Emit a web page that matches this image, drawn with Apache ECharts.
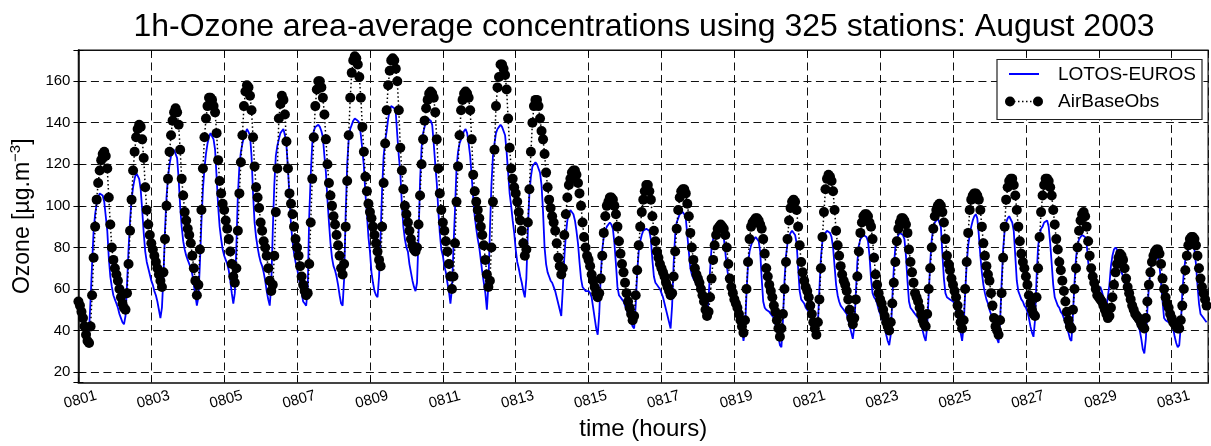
<!DOCTYPE html>
<html><head><meta charset="utf-8">
<script src="https://cdn.jsdelivr.net/npm/echarts@6/dist/echarts.min.js"></script>
<style>html,body{margin:0;padding:0;background:#fff}#c{width:1211px;height:446px}</style>
</head><body><div id="c"></div><script>
// tick labels (every 48 hours)
const xTickLabels = ['0801','0803','0805','0807','0809','0811','0813','0815','0817','0819','0821','0823','0825','0827','0829','0831'];
const titleText = '1h-Ozone area-average concentrations using 325 stations: August 2003';
const seriesNames = ['LOTOS-EUROS', 'AirBaseObs'];

// AirBaseObs hourly values, one line per day (0801 .. 0831)
const obs = [
 54, 52, 49, 46, 42, 38, 35, 34, 42, 57, 75, 90, 103, 111, 117, 122, 125, 126, 124, 118, 104, 91, 80, 74,
 70, 67, 64, 60, 56, 53, 51, 50, 58, 72, 88, 103, 117, 126, 133, 137, 139, 138, 132, 123, 109, 98, 91, 86,
 82, 79, 76, 73, 70, 67, 64, 61, 68, 84, 100, 113, 126, 134, 141, 145, 147, 145, 139, 127, 113, 105, 97, 93,
 89, 86, 82, 76, 70, 64, 57, 62, 79, 98, 118, 133, 142, 148, 152, 152, 151, 148, 145, 135, 122, 112, 106, 101,
 98, 93, 89, 84, 78, 72, 66, 63, 70, 88, 106, 121, 134, 148, 155, 158, 157, 153, 146, 133, 119, 109, 104, 99,
 92, 88, 83, 80, 76, 70, 64, 59, 62, 76, 97, 118, 142, 149, 153, 151, 144, 131, 118, 106, 101, 96, 90, 84,
 80, 76, 71, 66, 62, 59, 57, 58, 72, 92, 113, 133, 148, 156, 160, 160, 157, 152, 144, 132, 120, 111, 105, 100,
 95, 91, 86, 81, 76, 70, 67, 72, 90, 112, 134, 152, 164, 170, 172, 171, 168, 162, 152, 138, 126, 114, 107, 101,
 97, 94, 90, 86, 82, 78, 74, 71, 90, 111, 130, 146, 158, 165, 170, 171, 170, 166, 160, 146, 128, 117, 108, 100,
 96, 92, 88, 84, 81, 79, 78, 80, 91, 105, 120, 132, 141, 147, 151, 154, 155, 154, 152, 145, 132, 118, 106, 98,
 92, 88, 83, 78, 72, 66, 60, 66, 82, 102, 119, 134, 146, 151, 154, 155, 154, 152, 146, 132, 115, 107, 102, 98,
 94, 90, 86, 81, 74, 67, 61, 64, 80, 102, 127, 148, 157, 162, 168, 168, 166, 163, 156, 142, 128, 118, 113, 109,
 106, 102, 97, 93, 88, 82, 76, 79, 92, 108, 126, 140, 148, 151, 151, 148, 142, 136, 132, 125, 116, 109, 103, 99,
 95, 92, 88, 82, 75, 71, 67, 70, 86, 96, 104, 110, 113, 116, 117, 117, 115, 111, 106, 100, 92, 85, 80, 76,
 74, 71, 67, 64, 61, 58, 56, 58, 65, 76, 87, 95, 100, 102, 104, 104, 103, 100, 96, 90, 83, 77, 72, 68,
 63, 58, 54, 51, 48, 45, 47, 57, 69, 81, 90, 97, 103, 107, 110, 110, 107, 103, 95, 88, 83, 78, 75, 72,
 70, 68, 66, 63, 61, 59, 57, 58, 66, 78, 89, 98, 104, 107, 108, 108, 106, 101, 95, 87, 80, 74, 70, 67,
 65, 63, 60, 57, 54, 50, 47, 49, 56, 65, 74, 81, 86, 89, 90, 91, 90, 89, 86, 80, 72, 65, 61, 58,
 55, 53, 51, 48, 45, 42, 39, 45, 60, 73, 84, 90, 92, 93, 94, 94, 93, 91, 89, 84, 77, 70, 66, 62,
 59, 56, 52, 49, 45, 41, 37, 41, 48, 60, 73, 84, 93, 99, 102, 103, 102, 98, 90, 81, 73, 68, 64, 61,
 59, 56, 52, 48, 44, 41, 38, 44, 55, 70, 85, 97, 108, 113, 115, 114, 112, 107, 98, 88, 81, 76, 71, 67,
 64, 62, 59, 55, 50, 46, 43, 46, 55, 66, 78, 87, 92, 95, 96, 96, 95, 92, 90, 84, 75, 67, 62, 58,
 55, 53, 50, 47, 44, 42, 40, 44, 53, 63, 73, 83, 89, 92, 94, 94, 93, 91, 87, 79, 73, 68, 63, 58,
 56, 54, 51, 48, 45, 43, 42, 48, 60, 70, 80, 89, 95, 98, 100, 101, 100, 97, 92, 84, 76, 72, 69, 65,
 62, 59, 56, 52, 48, 44, 41, 45, 60, 73, 87, 98, 103, 105, 106, 106, 105, 103, 98, 90, 82, 76, 71, 67,
 64, 58, 52, 46, 42, 40, 38, 45, 58, 75, 90, 103, 109, 112, 113, 113, 110, 105, 98, 90, 83, 77, 73, 70,
 66, 62, 57, 53, 50, 48, 47, 56, 70, 85, 97, 105, 110, 113, 113, 112, 109, 105, 98, 91, 84, 79, 73, 69,
 64, 59, 54, 49, 45, 42, 41, 50, 60, 70, 80, 88, 93, 96, 97, 95, 90, 83, 76, 70, 66, 63, 60, 57,
 56, 55, 54, 52, 50, 48, 46, 47, 51, 56, 62, 68, 72, 75, 77, 76, 74, 70, 65, 61, 58, 55, 52, 50,
 48, 47, 46, 45, 43, 42, 41, 46, 54, 62, 68, 73, 76, 78, 79, 79, 77, 72, 65, 60, 56, 53, 51, 48,
 46, 44, 43, 42, 41, 41, 45, 52, 60, 69, 76, 81, 84, 85, 85, 84, 81, 76, 70, 65, 61, 58, 55, 52
];

// LOTOS-EUROS hourly values, one line per day (0801 .. 0831)
const model = [
 50, 48, 46, 44, 42, 40, 38, 40, 55, 72, 88, 96, 101, 104, 106, 106, 105, 102, 95, 88, 75, 66, 61, 57,
 55, 53, 51, 48, 46, 44, 43, 47, 62, 79, 93, 103, 109, 113, 116, 116, 113, 108, 98, 87, 78, 73, 70, 67,
 64, 62, 59, 57, 54, 50, 46, 51, 66, 88, 104, 114, 120, 124, 126, 127, 127, 123, 113, 100, 90, 83, 79, 76,
 74, 72, 70, 67, 62, 57, 52, 56, 72, 92, 108, 118, 125, 130, 133, 135, 135, 132, 127, 114, 100, 90, 84, 79,
 76, 74, 72, 69, 64, 58, 53, 58, 80, 105, 119, 126, 130, 133, 135, 137, 137, 134, 124, 106, 92, 85, 80, 76,
 73, 71, 68, 64, 59, 55, 52, 62, 88, 110, 124, 129, 132, 135, 136, 137, 134, 129, 118, 104, 91, 83, 77, 73,
 70, 66, 62, 58, 54, 53, 52, 60, 95, 115, 130, 136, 138, 138, 139, 138, 136, 133, 124, 116, 103, 92, 82, 75,
 71, 69, 66, 62, 57, 53, 52, 65, 96, 120, 132, 137, 139, 141, 142, 142, 141, 140, 134, 127, 119, 106, 96, 85,
 78, 68, 63, 59, 57, 56, 66, 85, 108, 124, 131, 136, 142, 146, 148, 148, 147, 145, 134, 124, 116, 101, 90, 84,
 80, 78, 72, 68, 64, 61, 59, 63, 85, 112, 128, 135, 138, 141, 142, 142, 141, 139, 130, 120, 111, 98, 87, 79,
 76, 71, 68, 63, 59, 53, 60, 80, 98, 118, 126, 130, 132, 134, 136, 137, 135, 130, 124, 114, 104, 95, 89, 84,
 80, 74, 68, 63, 58, 50, 62, 88, 110, 124, 130, 135, 137, 138, 139, 138, 138, 134, 126, 116, 106, 100, 93, 87,
 79, 73, 70, 66, 63, 59, 56, 65, 88, 106, 114, 119, 120, 121, 120, 118, 116, 110, 97, 80, 72, 68, 66, 64,
 63, 61, 59, 56, 53, 50, 47, 60, 75, 86, 93, 96, 98, 98, 96, 93, 88, 82, 73, 65, 61, 60, 59, 59,
 59, 58, 56, 51, 46, 41, 38, 48, 66, 79, 85, 88, 90, 91, 92, 91, 89, 82, 72, 61, 57, 56, 55, 54,
 52, 50, 48, 46, 44, 42, 41, 52, 68, 78, 83, 86, 88, 88, 89, 89, 88, 84, 74, 66, 63, 62, 61, 60,
 58, 56, 53, 50, 47, 44, 41, 52, 72, 86, 92, 94, 96, 96, 97, 96, 94, 86, 78, 70, 67, 65, 64, 62,
 61, 60, 59, 57, 54, 50, 46, 55, 69, 80, 84, 86, 87, 88, 88, 88, 87, 85, 78, 71, 66, 62, 59, 56,
 53, 51, 49, 47, 44, 41, 35, 40, 58, 72, 78, 81, 83, 84, 85, 85, 83, 78, 65, 54, 51, 50, 50, 49,
 48, 47, 46, 43, 40, 37, 33, 32, 45, 64, 76, 82, 85, 87, 88, 88, 86, 82, 70, 59, 55, 54, 53, 51,
 50, 49, 48, 45, 42, 39, 37, 43, 60, 75, 83, 86, 87, 88, 88, 87, 85, 80, 71, 62, 57, 54, 52, 51,
 50, 49, 48, 45, 42, 39, 36, 42, 58, 73, 81, 84, 85, 86, 86, 85, 83, 76, 65, 58, 56, 55, 53, 50,
 48, 46, 44, 42, 38, 35, 33, 38, 55, 70, 80, 84, 86, 87, 87, 86, 84, 76, 64, 54, 51, 50, 49, 48,
 47, 46, 45, 44, 40, 37, 35, 42, 57, 73, 84, 89, 92, 93, 94, 94, 90, 77, 65, 58, 56, 56, 55, 55,
 54, 53, 50, 47, 43, 39, 35, 42, 58, 72, 81, 86, 90, 93, 95, 96, 94, 86, 76, 68, 62, 58, 55, 53,
 50, 48, 46, 43, 40, 36, 34, 44, 63, 79, 88, 92, 94, 95, 95, 92, 88, 76, 64, 59, 57, 55, 54, 52,
 51, 49, 46, 42, 39, 37, 45, 65, 80, 86, 89, 90, 92, 92, 93, 90, 82, 72, 62, 56, 54, 52, 51, 49,
 48, 46, 44, 41, 39, 36, 35, 48, 63, 75, 81, 84, 85, 86, 86, 85, 82, 73, 68, 66, 63, 62, 61, 60,
 60, 61, 59, 56, 53, 51, 51, 62, 71, 76, 79, 80, 79, 75, 71, 68, 66, 63, 60, 57, 54, 51, 48, 46,
 45, 44, 42, 40, 36, 31, 29, 36, 50, 61, 69, 73, 74, 75, 76, 75, 71, 63, 54, 46, 45, 45, 44, 44,
 43, 41, 37, 34, 32, 33, 42, 58, 68, 74, 77, 79, 80, 81, 81, 79, 72, 62, 53, 48, 47, 46, 45, 44
];

const FONT = '"Liberation Sans", Arial, sans-serif';
const HOURS = 744;
const chart = echarts.init(document.getElementById('c'), null, {renderer: 'canvas'});

const gridCol = '#111';
const splitLine = {show: true, lineStyle: {color: gridCol, width: 1, type: [8, 4.5]}};
const xLabelFmt = v => (v % 48 === 0 && v < HOURS) ? xTickLabels[v / 48] : '';
const yLabelFmt = v => (v % 20 === 0) ? String(v) : '';

const option = {
  animation: false,
  backgroundColor: '#fff',
  grid: {left: 73.3, right: 1, top: 50, bottom: 62, show: true, borderColor: '#111', borderWidth: 1.2, containLabel: false},
  xAxis: [{
    type: 'value', min: 0, max: HOURS, interval: 48,
    name: 'time (hours)', nameLocation: 'middle', nameGap: 31,
    nameTextStyle: {fontFamily: FONT, fontSize: 24, color: '#000'},
    axisLine: {show: true, lineStyle: {color: '#444', width: 2}},
    axisTick: {show: true, inside: true, length: 5, lineStyle: {color: '#000', width: 1}},
    axisLabel: {formatter: xLabelFmt, rotate: 15, align: 'center', verticalAlign: 'top', margin: 10,
                fontFamily: FONT, fontSize: 15, color: '#000', showMinLabel: true, showMaxLabel: true},
    splitLine: splitLine
  }, {
    type: 'value', min: 0, max: HOURS, interval: 48, position: 'top',
    axisLine: {show: true, lineStyle: {color: '#111', width: 1.2}},
    axisTick: {show: true, inside: true, length: 5, lineStyle: {color: '#000'}},
    axisLabel: {show: false}, splitLine: {show: false}
  }],
  yAxis: [{
    type: 'value', min: 15, max: 175, splitNumber: 8,
    name: '{a|Ozone [µg.m}{s|−3}{a|]}', nameLocation: 'middle', nameGap: 29, nameRotate: 90,
    nameTextStyle: {rich: {
      a: {fontFamily: FONT, fontSize: 23, color: '#000', lineHeight: 30},
      s: {fontFamily: FONT, fontSize: 15, color: '#000', lineHeight: 15, verticalAlign: 'top'}
    }},
    axisLine: {show: true, lineStyle: {color: '#444', width: 2}},
    axisTick: {show: true, inside: true, length: 5, lineStyle: {color: '#000'}},
    axisLabel: {formatter: yLabelFmt, margin: 8, fontFamily: FONT, fontSize: 15, color: '#000', showMinLabel: true, showMaxLabel: true},
    splitLine: splitLine
  }, {
    type: 'value', min: 15, max: 175, splitNumber: 8, position: 'right',
    axisLine: {show: true, lineStyle: {color: '#111', width: 1.2}},
    axisTick: {show: true, inside: true, length: 5, lineStyle: {color: '#000'}},
    axisLabel: {show: false}, splitLine: {show: false}
  }],
  series: [{
    name: seriesNames[0], type: 'line', xAxisIndex: 0, yAxisIndex: 0,
    data: model.map((v, i) => [i, v]),
    showSymbol: false, symbol: 'none', z: 3,
    lineStyle: {color: '#0000ff', width: 1.8}
  }, {
    name: seriesNames[1], type: 'line', xAxisIndex: 0, yAxisIndex: 0,
    data: obs.map((v, i) => [i, v]),
    showSymbol: true, showAllSymbol: true, symbol: 'circle', symbolSize: 10, z: 4,
    itemStyle: {color: '#000', borderWidth: 0},
    lineStyle: {color: '#000', width: 1.5, type: [1.5, 2.5]}
  }],
  graphic: [
    {type: 'text', z: 100, style: {text: titleText, x: 644, y: 27, align: 'center', verticalAlign: 'middle',
      font: '32px ' + FONT, fill: '#000'}},
    {type: 'rect', z: 100, shape: {x: 997, y: 59.5, width: 205, height: 60}, style: {fill: '#fff', stroke: '#222', lineWidth: 1.2}},
    {type: 'line', z: 101, shape: {x1: 1009, y1: 74, x2: 1039, y2: 74}, style: {stroke: '#0000ff', lineWidth: 2}},
    {type: 'text', z: 101, style: {text: seriesNames[0], x: 1058, y: 74.5, verticalAlign: 'middle', font: '19px ' + FONT, fill: '#000'}},
    {type: 'line', z: 101, shape: {x1: 1010, y1: 101.5, x2: 1038, y2: 101.5}, style: {stroke: '#000', lineWidth: 1.5, lineDash: [1.5, 2.5]}},
    {type: 'circle', z: 102, shape: {cx: 1010, cy: 101.5, r: 5}, style: {fill: '#000'}},
    {type: 'circle', z: 102, shape: {cx: 1038, cy: 101.5, r: 5}, style: {fill: '#000'}},
    {type: 'text', z: 101, style: {text: seriesNames[1], x: 1058, y: 101.5, verticalAlign: 'middle', font: '19px ' + FONT, fill: '#000'}}
  ]
};
chart.setOption(option);
</script></body></html>
